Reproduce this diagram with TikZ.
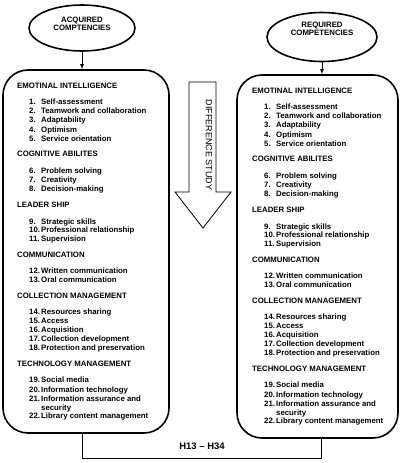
\documentclass[tikz,border=0pt]{standalone}
\usepackage{fontspec}
\setmainfont{Liberation Sans}
\usetikzlibrary{shapes.geometric}

\newcommand{\listfont}{\bfseries\fontsize{7.8}{9}\selectfont}

% the six groups of competencies, placed from the box corner #1,#2
\newcommand{\complist}[3]{%
  \begin{scope}[shift={(#1,#2)}]
    \foreach \y/\h in {86/EMOTINAL INTELLIGENCE, 154/COGNITIVE ABILITES,
        205/LEADER SHIP, 255/COMMUNICATION, 296/COLLECTION MANAGEMENT,
        364/TECHNOLOGY MANAGEMENT}
      \node[head] (#3h\y) at (17,\y) {\h};
    \foreach \y/\n/\t in {102/1./Self-assessment, 111/2./Teamwork and collaboration,
        120/3./Adaptability, 130/4./Optimism, 139/5./Service\ orientation,
        171/6./Problem solving, 180/7./Creativity, 189/8./Decision-making,
        222/9./Strategic skills, 230/10./Professional relationship, 239/11./Supervision,
        271/12./Written communication, 280/13./Oral communication,
        312/14./Resources sharing, 321/15./Access, 330/16./Acquisition,
        339/17./Collection development, 348/18./Protection and preservation,
        380/19./Social media, 390/20./Information technology,
        399/21./Information assurance\ and, 408/{}/security,
        416/22./Library content management}
      \node[item] (#3i\y) at (29,\y) {\makebox[12pt][l]{\n}\t};
  \end{scope}}

\begin{document}
\begin{tikzpicture}[x=1pt,y=-1pt]
    \tikzset{
      oval/.style={draw,ellipse,line width=1.6pt},
      box/.style={draw,line width=1.6pt,rounded corners=25pt},
      head/.style={anchor=west,inner sep=0pt,font=\listfont},
      item/.style={anchor=west,inner sep=0pt,font=\listfont},
      caption/.style={align=center,inner sep=0pt,font=\listfont}
    }
    \useasboundingbox (0,0) rectangle (401,463);
    % ovals on top
    \node[oval,minimum width=106pt,minimum height=46pt] (acq) at (82,28) {};
    \node[caption] (acqtext) at (82,24) {ACQUIRED\\[-0.6pt]COMPTENCIES};
    \node[oval,minimum width=110pt,minimum height=49pt] (req) at (322,37) {};
    \node[caption] (reqtext) at (322,29) {REQUIRED\\[-0.6pt]COMPETENCIES};
    % the two boxes
    \node[box,minimum width=166pt,minimum height=363pt] (accbox) at (86,251.5) {};
    \node[box,minimum width=161pt,minimum height=363pt] (reqbox) at (317.5,256.5) {};
    \draw[-latex,thick] (acq) -- (acq |- accbox.north);
    \draw[-latex,thick] (req) -- (req |- reqbox.north);
    \complist{0}{0}{a}
    \complist{235}{5}{r}
    % difference study arrow
    \draw[thick] (189,82) -- (216,82) -- (216,192) -- (231,192) -- (203,228)
        -- (175,192) -- (189,192) -- cycle;
    \node[rotate=-90,inner sep=0pt,font=\fontsize{9}{9}\selectfont] (diff) at (209,145) {DIFFERENCE STUDY};
    % hypotheses link
    \coordinate (hl) at (82,458);
    \coordinate (hr) at (321,458);
    \draw[thick] (accbox.south -| hl) -- (hl) -- (hr) -- (reqbox.south -| hr);
    \node[inner sep=0pt,font=\bfseries\fontsize{9.5}{9.5}\selectfont] (hyp) at (202,446) {H13 -- H34};
\end{tikzpicture}
\end{document}
